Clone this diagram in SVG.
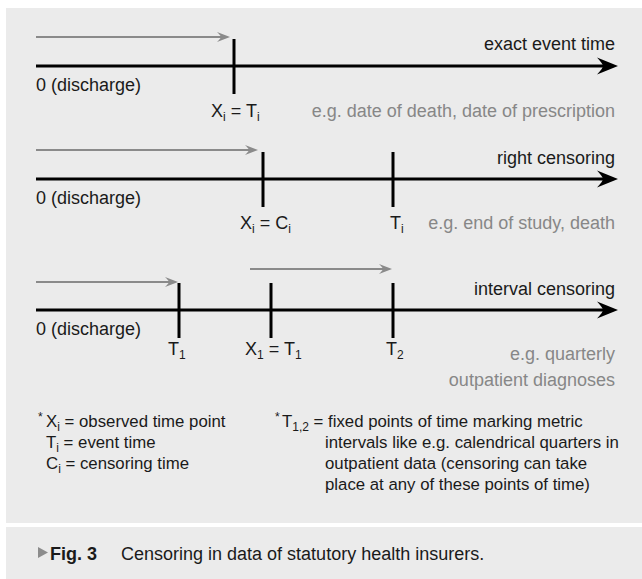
<svg xmlns="http://www.w3.org/2000/svg" width="642" height="579" viewBox="0 0 642 579">
<style>
text{font-family:"Liberation Sans",Arial,sans-serif;font-size:18px;fill:#1a1a1a}
.g{fill:#878787}
.e{text-anchor:end}
.s{font-size:12px}
.sup{font-size:12px}
.lg{font-size:16.8px}
.axis{stroke:#000;stroke-width:3;fill:none}
.tick{stroke:#000;stroke-width:3}
.garr{stroke:#8a8a8a;stroke-width:2.2;fill:none}
.panel{fill:#ebebeb}
</style>
<defs>
<marker id="ahb" markerUnits="userSpaceOnUse" orient="auto" refX="0" refY="0" markerWidth="30" markerHeight="20" style="overflow:visible">
<path d="M14,0 L-7,-8.5 Q-1,-2 -1,0 Q-1,2 -7,8.5 Z" fill="#000"/>
</marker>
<marker id="ahg" markerUnits="userSpaceOnUse" orient="auto" refX="0" refY="0" markerWidth="20" markerHeight="14" style="overflow:visible">
<path d="M8,0 L-5,-5 Q-1,-1 -1,0 Q-1,1 -5,5 Z" fill="#8a8a8a"/>
</marker>
</defs>
<rect x="0" y="0" width="642" height="579" fill="#fff"/>
<rect class="panel" x="6" y="8" width="636" height="515"/>
<rect class="panel" x="6" y="527" width="636" height="52"/>

<g id="connectors">
<line class="axis" x1="36" y1="66" x2="604" y2="66" marker-end="url(#ahb)"/>
<line class="axis" x1="36" y1="179" x2="604" y2="179" marker-end="url(#ahb)"/>
<line class="axis" x1="36" y1="310" x2="604" y2="310" marker-end="url(#ahb)"/>
<line class="garr" x1="36" y1="37" x2="222" y2="37" marker-end="url(#ahg)"/>
<line class="garr" x1="36" y1="150" x2="250" y2="150" marker-end="url(#ahg)"/>
<line class="garr" x1="36" y1="282" x2="170" y2="282" marker-end="url(#ahg)"/>
<line class="garr" x1="250" y1="269" x2="384" y2="269" marker-end="url(#ahg)"/>
</g>

<g id="row-exact">
<line class="tick" x1="234" y1="39" x2="234" y2="94"/>
<text class="e" x="615" y="50">exact event time</text>
<text x="36" y="91">0 (discharge)</text>
<text x="211" y="117">X<tspan class="s" dy="4">i</tspan><tspan dy="-4"> = T</tspan><tspan class="s" dy="4">i</tspan></text>
<text class="g e" x="615" y="117">e.g. date of death, date of prescription</text>
</g>

<g id="row-right">
<line class="tick" x1="263" y1="152" x2="263" y2="207"/>
<line class="tick" x1="393" y1="152" x2="393" y2="207"/>
<text class="e" x="615" y="164">right censoring</text>
<text x="36" y="204">0 (discharge)</text>
<text x="240" y="229">X<tspan class="s" dy="4">i</tspan><tspan dy="-4"> = C</tspan><tspan class="s" dy="4">i</tspan></text>
<text x="390" y="229">T<tspan class="s" dy="4">i</tspan></text>
<text class="g e" x="615" y="229">e.g. end of study, death</text>
</g>

<g id="row-interval">
<line class="tick" x1="179" y1="283" x2="179" y2="338"/>
<line class="tick" x1="271" y1="283" x2="271" y2="338"/>
<line class="tick" x1="393" y1="283" x2="393" y2="338"/>
<text class="e" x="615" y="295">interval censoring</text>
<text x="36" y="335">0 (discharge)</text>
<text x="168" y="355">T<tspan class="s" dy="4">1</tspan></text>
<text x="245" y="355">X<tspan class="s" dy="4">1</tspan><tspan dy="-4"> = T</tspan><tspan class="s" dy="4">1</tspan></text>
<text x="386" y="355">T<tspan class="s" dy="4">2</tspan></text>
<text class="g e" x="615" y="360">e.g. quarterly</text>
<text class="g e" x="615" y="386">outpatient diagnoses</text>
</g>

<g id="legend-left">
<text class="sup" x="38" y="421">*</text>
<text class="lg" x="46" y="427">X<tspan class="s" dy="4">i</tspan><tspan dy="-4"> = observed time point</tspan></text>
<text class="lg" x="46" y="448">T<tspan class="s" dy="4">i</tspan><tspan dy="-4"> = event time</tspan></text>
<text class="lg" x="46" y="469">C<tspan class="s" dy="4">i</tspan><tspan dy="-4"> = censoring time</tspan></text>
</g>

<g id="legend-right">
<text class="sup" x="275" y="421">*</text>
<text class="lg" x="282" y="427">T<tspan class="s" dy="4">1,2</tspan><tspan dy="-4"> = fixed points of time marking metric</tspan></text>
<text class="lg" x="325" y="448">intervals like e.g. calendrical quarters in</text>
<text class="lg" x="325" y="469">outpatient data (censoring can take</text>
<text class="lg" x="325" y="490">place at any of these points of time)</text>
</g>

<g id="caption">
<path d="M38,547 L48,552.5 L38,558 Z" fill="#8c8c8c"/>
<text x="50" y="560" font-weight="bold">Fig. 3</text>
<text x="121" y="560">Censoring in data of statutory health insurers.</text>
</g>
</svg>
